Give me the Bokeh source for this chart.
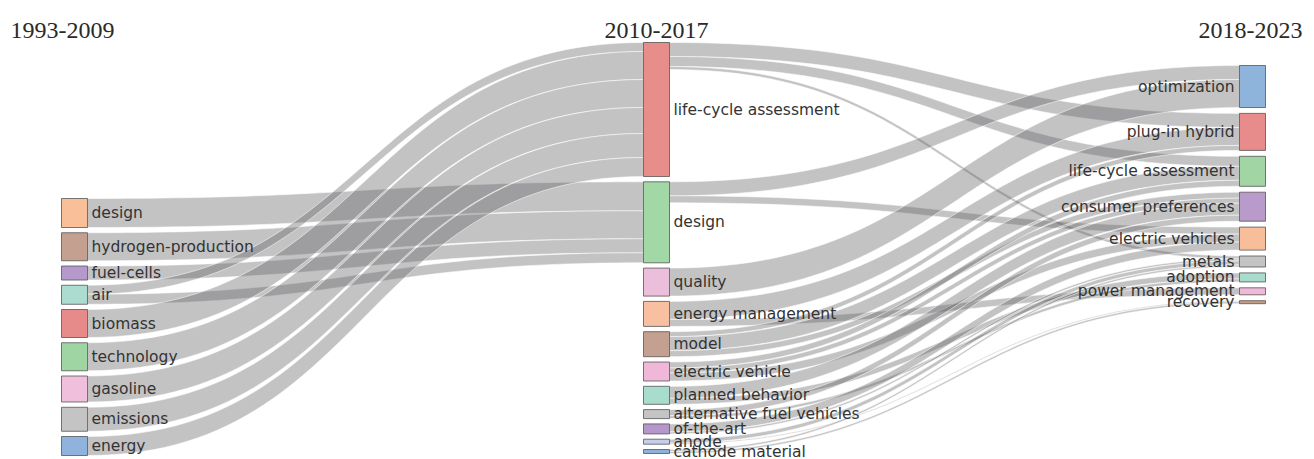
import numpy as np
from bokeh.plotting import figure
from bokeh.models import Range1d, ColumnDataSource
from bokeh.embed import file_html
from bokeh.resources import INLINE
from bokeh.core.properties import value

# ---------------- data ----------------
periods = ["1993-2009", "2010-2017", "2018-2023"]

left_nodes = ["design", "hydrogen-production", "fuel-cells", "air", "biomass",
              "technology", "gasoline", "emissions", "energy"]
mid_nodes = ["life-cycle assessment", "design", "quality", "energy management", "model",
             "electric vehicle", "planned behavior", "alternative fuel vehicles",
             "of-the-art", "anode", "cathode material"]
right_nodes = ["optimization", "plug-in hybrid", "life-cycle assessment",
               "consumer preferences", "electric vehicles", "metals", "adoption",
               "power management", "recovery"]

left_colors = ["#f9bf98", "#c4a091", "#b699cc", "#abdccf", "#e68a8a",
               "#9fd5a3", "#efbfdc", "#c4c4c4", "#8fb3dd"]
mid_colors = ["#e88e8a", "#a1d8a6", "#ebbfdc", "#f8c0a0", "#c3a090",
              "#f0b8d8", "#a8dccc", "#c4c4c4", "#b597cc", "#c6cfea", "#8fb0d8"]
right_colors = ["#8fb4dc", "#e88b8b", "#a1d6a4", "#b89acb", "#f8be9a",
                "#c4c4c4", "#a9dccd", "#efb9d8", "#c49c84"]

# flows 1993-2009 -> 2010-2017
f1_src = ["design", "hydrogen-production", "fuel-cells", "air", "air", "biomass",
          "technology", "gasoline", "emissions", "energy"]
f1_tgt = ["design", "design", "design", "life-cycle assessment", "design",
          "life-cycle assessment", "life-cycle assessment", "life-cycle assessment",
          "life-cycle assessment", "life-cycle assessment"]
f1_val = [29, 28, 14, 9, 10, 28, 28, 26, 24, 19]

# flows 2010-2017 -> 2018-2023
f2_src = ["life-cycle assessment", "life-cycle assessment", "life-cycle assessment",
          "design", "design", "quality",
          "energy management", "energy management",
          "model", "model", "model",
          "electric vehicle", "electric vehicle", "electric vehicle",
          "planned behavior", "planned behavior",
          "alternative fuel vehicles", "alternative fuel vehicles",
          "of-the-art", "of-the-art",
          "anode", "anode", "cathode material", "cathode material"]
f2_tgt = ["plug-in hybrid", "life-cycle assessment", "metals",
          "optimization", "electric vehicles", "optimization",
          "plug-in hybrid", "power management",
          "plug-in hybrid", "life-cycle assessment", "consumer preferences",
          "life-cycle assessment", "consumer preferences", "electric vehicles",
          "consumer preferences", "adoption",
          "consumer preferences", "adoption",
          "electric vehicles", "metals",
          "metals", "recovery", "metals", "recovery"]
f2_val = [14, 10, 3,
          14, 7, 28,
          18, 7,
          5, 14, 6,
          6, 5, 8,
          12, 6,
          6, 3,
          8, 2,
          4, 1, 2, 2]

# ---------------- layout (style constants) ----------------
col_x = [61, 643, 1239]
node_w = 26
col_top = [198, 42, 65]
col_pad = [5.25, 5.3, 5.9]
scale = 1.0

columns = [left_nodes, mid_nodes, right_nodes]
colors = [left_colors, mid_colors, right_colors]
flows = [(f1_src, f1_tgt, f1_val), (f2_src, f2_tgt, f2_val)]

inflow = [dict.fromkeys(c, 0) for c in columns]
outflow = [dict.fromkeys(c, 0) for c in columns]
for k, (s, t, v) in enumerate(flows):
    for a, b, w in zip(s, t, v):
        outflow[k][a] += w
        inflow[k + 1][b] += w

node_y0 = []
node_y1 = []
for c, names in enumerate(columns):
    y = col_top[c]
    d0, d1 = {}, {}
    for n in names:
        h = max(inflow[c][n], outflow[c][n]) * scale
        d0[n] = y
        d1[n] = y + h
        y += h + col_pad[c]
    node_y0.append(d0)
    node_y1.append(d1)


def bez(p0, p1, p2, p3, t):
    return ((1 - t) ** 3) * p0 + 3 * ((1 - t) ** 2) * t * p1 + 3 * (1 - t) * t * t * p2 + t ** 3 * p3


t = np.linspace(0, 1, 60)
link_xs, link_ys = [], []
for k, (s, tg, v) in enumerate(flows):
    idx = list(range(len(s)))
    src_off = {}
    for n in columns[k]:
        outs = [i for i in idx if s[i] == n]
        outs.sort(key=lambda i: node_y0[k + 1][tg[i]])
        y = node_y0[k][n]
        for i in outs:
            src_off[i] = y
            y += v[i] * scale
    tgt_off = {}
    for n in columns[k + 1]:
        ins = [i for i in idx if tg[i] == n]
        ins.sort(key=lambda i: node_y0[k][s[i]])
        y = node_y0[k + 1][n]
        for i in ins:
            tgt_off[i] = y
            y += v[i] * scale
    x0 = col_x[k] + node_w
    x1 = col_x[k + 1]
    xm = (x0 + x1) / 2
    bx = bez(x0, xm, xm, x1, t)
    for i in idx:
        w = v[i] * scale
        ys0, yt0 = src_off[i], tgt_off[i]
        top = bez(ys0, ys0, yt0, yt0, t)
        bot = bez(ys0 + w, ys0 + w, yt0 + w, yt0 + w, t)
        link_xs.append(list(bx) + list(bx[::-1]))
        link_ys.append(list(top) + list(bot[::-1]))

# ---------------- figure ----------------
W, H = 1314, 459
p = figure(width=W, height=H, x_range=Range1d(0, W), y_range=Range1d(H, 0),
           output_backend="svg", toolbar_location=None, min_border=0)
p.axis.visible = False
p.grid.visible = False
p.outline_line_color = None
p.background_fill_color = "white"

p.patches(link_xs, link_ys, fill_color="#646466", fill_alpha=0.39,
          line_color="white", line_width=0.6, line_alpha=0.9)

for c, names in enumerate(columns):
    src = ColumnDataSource(dict(
        left=[col_x[c]] * len(names),
        right=[col_x[c] + node_w] * len(names),
        top=[node_y0[c][n] for n in names],
        bottom=[node_y1[c][n] for n in names],
        color=colors[c],
    ))
    p.quad(left="left", right="right", top="top", bottom="bottom", source=src,
           fill_color="color", line_color="#555555", line_width=0.8)
    ymid = [(node_y0[c][n] + node_y1[c][n]) / 2 for n in names]
    if c < 2:
        lx = [col_x[c] + node_w + 4] * len(names)
        align = "left"
    else:
        lx = [col_x[c] - 5] * len(names)
        align = "right"
    p.text(x=lx, y=ymid, text=names, text_align=align, text_baseline="middle",
           text_font=value("DejaVu Sans"), text_font_size="15.5px", text_color="#333333")

p.text(x=[10], y=[30], text=[periods[0]], text_align="left", text_baseline="alphabetic",
       text_font=value("Liberation Serif"), text_font_size="24px", text_color="#2a2a2a")
p.text(x=[col_x[1] + node_w / 2], y=[30], text=[periods[1]], text_align="center",
       text_baseline="alphabetic", text_font=value("Liberation Serif"),
       text_font_size="24px", text_color="#2a2a2a")
p.text(x=[1302], y=[30], text=[periods[2]], text_align="right", text_baseline="alphabetic",
       text_font=value("Liberation Serif"), text_font_size="24px", text_color="#2a2a2a")

open("out.html", "w").write(file_html(p, INLINE))
